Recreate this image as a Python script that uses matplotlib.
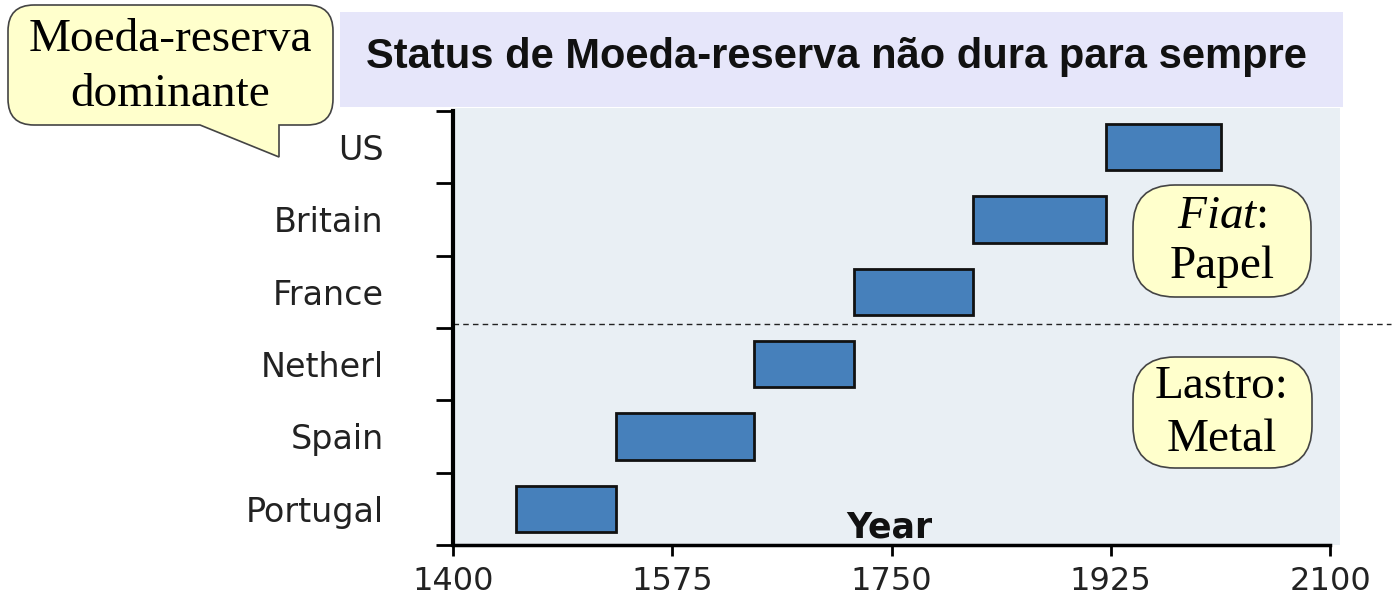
import matplotlib
matplotlib.use("Agg")
import matplotlib.pyplot as plt
from matplotlib.patches import Rectangle, FancyBboxPatch, PathPatch
from matplotlib.path import Path

plt.rcParams["mathtext.fontset"] = "custom"
plt.rcParams["mathtext.rm"] = "Liberation Serif"
plt.rcParams["mathtext.it"] = "Liberation Serif:italic"

# dados
paises = ["Portugal", "Spain", "Netherl", "France", "Britain", "US"]
inicio = [1450, 1530, 1640, 1720, 1815, 1921]
fim = [1530, 1640, 1720, 1815, 1921, 2013]
anos_ticks = [1400, 1575, 1750, 1925, 2100]
limite_fiat = 2.55  # linha tracejada entre metal e papel

W, H = 1398, 598
fig = plt.figure(figsize=(W / 100, H / 100), dpi=100)
fig.patch.set_facecolor("white")

def px(x, y):
    # pixel (topo-esquerda) -> fracao da figura
    return x / W, 1 - y / H

# fundo do grafico e faixa do titulo
x0, y0 = px(455, 545)
fig.add_artist(Rectangle((x0, y0), (1340 - 455) / W, (545 - 108) / H,
                         transform=fig.transFigure, facecolor="#e9eff4",
                         edgecolor="none", zorder=0))
x0, y0 = px(340, 107)
fig.add_artist(Rectangle((x0, y0), (1343 - 340) / W, (107 - 12) / H,
                         transform=fig.transFigure, facecolor="#e6e6fa",
                         edgecolor="none", zorder=0))
fig.text(*px(836, 57), "Status de Moeda-reserva não dura para sempre",
         ha="center", va="center", fontsize=30, fontweight="bold",
         family="Liberation Sans", color="#111111")

ax = fig.add_axes([453 / W, 53 / H, 877 / W, 434 / H])
ax.set_facecolor("none")

ypos = list(range(len(paises)))
dur = [f - i for i, f in zip(inicio, fim)]
ax.barh(ypos, dur, left=inicio, height=0.64, color="#4680bb",
        edgecolor="#111111", linewidth=2)

ax.set_xlim(1400, 2100)
ax.set_ylim(-0.5, len(paises) - 0.5)
ax.set_xticks(anos_ticks)
ax.set_xticklabels([str(a) for a in anos_ticks])
ax.set_yticks([i - 0.5 for i in range(len(paises) + 1)])
ax.set_yticklabels([])
ax.set_yticks(ypos, minor=True)
ax.set_yticklabels(paises, minor=True)

ax.tick_params(axis="y", which="major", direction="out", length=12, width=2)
ax.tick_params(axis="y", which="minor", length=0, pad=50, labelsize=24,
               labelcolor="#222222")
ax.tick_params(axis="x", direction="out", length=8, width=2, pad=7,
               labelsize=23, labelcolor="#222222")
for lab in ax.get_xticklabels() + ax.get_yticklabels(minor=True):
    lab.set_family("DejaVu Sans")

for s in ["top", "right"]:
    ax.spines[s].set_visible(False)
ax.spines["left"].set_linewidth(3)
ax.spines["bottom"].set_linewidth(2.5)
ax.spines["left"].set_bounds(-0.5, len(paises) - 0.5)

ax.set_xlabel("Year", fontsize=25, fontweight="bold", family="DejaVu Sans",
              color="#111111", va="bottom")
ax.xaxis.set_label_coords(0.497, 0.0)

ax.axhline(limite_fiat, xmin=0, xmax=1.07, color="#222222", lw=1,
           ls=(0, (4, 3)), clip_on=False)

# balao "Moeda-reserva dominante"
amarelo = "#ffffcc"
borda = "#444444"
L, R, T, B, r = 8, 333, 5, 125, 26
tail = [(279, 125), (279, 157), (200, 125)]
pts = [(L + r, T), (R - r, T), (R, T), (R, T + r), (R, B - r), (R, B), (R - r, B),
       tail[0], tail[1], tail[2],
       (L + r, B), (L, B), (L, B - r), (L, T + r), (L, T), (L + r, T)]
codes = [Path.MOVETO, Path.LINETO, Path.CURVE3, Path.CURVE3, Path.LINETO,
         Path.CURVE3, Path.CURVE3, Path.LINETO, Path.LINETO, Path.LINETO,
         Path.LINETO, Path.CURVE3, Path.CURVE3, Path.LINETO, Path.CURVE3,
         Path.CURVE3]
balao = Path([px(x, y) for x, y in pts], codes)
fig.add_artist(PathPatch(balao, transform=fig.transFigure, facecolor=amarelo,
                         edgecolor=borda, lw=1.2, zorder=5))
fig.text(*px(170, 40), "Moeda-reserva", ha="center", va="center",
         fontsize=34, family="Liberation Serif", zorder=6)
fig.text(*px(170, 95), "dominante", ha="center", va="center",
         fontsize=34, family="Liberation Serif", zorder=6)

# caixas Fiat / Lastro
def caixa(l, t, r_, b):
    x, y = px(l, b)
    fig.add_artist(FancyBboxPatch((x, y), (r_ - l) / W, (b - t) / H,
                                  boxstyle="round,pad=0,rounding_size=0.03",
                                  mutation_aspect=W / H,
                                  transform=fig.transFigure, facecolor=amarelo,
                                  edgecolor=borda, lw=1.2, zorder=5))

caixa(1133, 185, 1311, 297)
caixa(1133, 357, 1312, 468)
fig.text(*px(1222, 217), r"$\mathit{Fiat}$:", ha="center", va="center",
         fontsize=34, family="Liberation Serif", zorder=6)
fig.text(*px(1222, 267), "Papel", ha="center", va="center",
         fontsize=34, family="Liberation Serif", zorder=6)
fig.text(*px(1222, 387), "Lastro:", ha="center", va="center",
         fontsize=34, family="Liberation Serif", zorder=6)
fig.text(*px(1222, 440), "Metal", ha="center", va="center",
         fontsize=34, family="Liberation Serif", zorder=6)

fig.savefig("out.png", dpi=100)
